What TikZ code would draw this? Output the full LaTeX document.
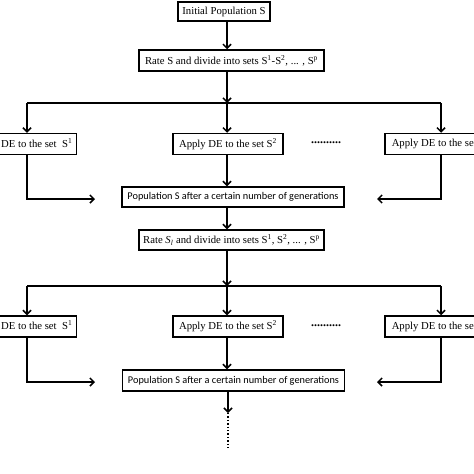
\documentclass[tikz,border=0pt]{standalone}
\usepackage{fontspec}
\setmainfont{Liberation Serif}
\newfontfamily\sansf{Carlito}
\usetikzlibrary{arrows.meta}
\begin{document}
\begin{tikzpicture}[x=1pt,y=-1pt,
  box/.style={draw,line width=1.5pt,minimum height=20pt,inner sep=2pt,font=\fontsize{10.7}{12}\selectfont},
  sbox/.style={box,font=\sansf\fontsize{10.3}{12}\selectfont},
  arr/.style={line width=1.5pt,-{Straight Barb[length=4pt,width=8pt]}},
  ln/.style={line width=1.5pt},
  dotsnode/.style={font=\fontsize{12}{12}\selectfont\bfseries,inner sep=0pt}]
\useasboundingbox (0,0) rectangle (474,474);
\fill[white] (0,0) rectangle (474,474);
\clip (0,0) rectangle (474,474);
% top
\node[box,minimum width=92pt,minimum height=19pt] (b1) at (224,11.5) {Initial Population S};
\node[box,minimum width=185pt,minimum height=21pt] (b2) at (231.5,60.5) {Rate S and divide into sets S\textsuperscript{1}-S\textsuperscript{2}, ... , S\textsuperscript{p}};
\draw[arr] (b1.south -| 227,0) -- (b2.north -| 227,0);
% block 1
\coordinate (j1) at (227,103);
\coordinate (l1) at (27,103);
\coordinate (r1) at (441,103);
\node[box,inner xsep=4pt,minimum height=21pt,anchor=east] (a1) at (77,144) {Apply DE to the set \ S\textsuperscript{1}};
\node[box,minimum width=110pt,minimum height=21pt] (m1) at (228,144) {Apply DE to the set S\textsuperscript{2}};
\node[box,inner xsep=7pt,minimum height=21pt,anchor=west] (c1) at (384,144) {Apply DE to the set S\textsuperscript{p}};
\node[dotsnode] (dt1) at (326,143) {..........};
\node[sbox,minimum width=222pt,minimum height=20pt] (p1) at (233,197) {Population S after a certain number of generations};
\draw[arr] (b2.south -| j1) -- (j1);
\draw[ln] (l1) -- (r1);
\draw[arr] (l1) -- (l1 |- a1.north);
\draw[arr] (j1) -- (j1 |- m1.north);
\draw[arr] (r1) -- (r1 |- c1.north);
\coordinate (lt1) at (95,199);
\coordinate (rt1) at (377,199);
\draw[arr] (a1.south -| l1) |- (lt1);
\draw[arr] (c1.south -| r1) |- (rt1);
\draw[arr] (m1.south -| j1) -- (p1.north -| j1);
% block 2
\node[box,minimum width=185pt,minimum height=20pt] (b5) at (231.5,240) {Rate \textit{S\textsubscript{l}} and divide into sets S\textsuperscript{1}, S\textsuperscript{2}, ... , S\textsuperscript{p}};
\draw[arr] (p1.south -| j1) -- (b5.north -| j1);
\coordinate (j2) at (227,286);
\coordinate (l2) at (27,286);
\coordinate (r2) at (441,286);
\node[box,inner xsep=4pt,minimum height=21pt,anchor=east] (a2) at (77,326.5) {Apply DE to the set \ S\textsuperscript{1}};
\node[box,minimum width=110pt,minimum height=21pt] (m2) at (228,326.5) {Apply DE to the set S\textsuperscript{2}};
\node[box,inner xsep=7pt,minimum height=21pt,anchor=west] (c2) at (384,326.5) {Apply DE to the set S\textsuperscript{p}};
\node[dotsnode] (dt2) at (326,325.5) {..........};
\node[sbox,minimum width=222pt,minimum height=21pt] (p2) at (233.5,380.5) {Population S after a certain number of generations};
\draw[arr] (b5.south -| j2) -- (j2);
\draw[ln] (l2) -- (r2);
\draw[arr] (l2) -- (l2 |- a2.north);
\draw[arr] (j2) -- (j2 |- m2.north);
\draw[arr] (r2) -- (r2 |- c2.north);
\coordinate (lt2) at (95,382);
\coordinate (rt2) at (377,382);
\draw[arr] (a2.south -| l2) |- (lt2);
\draw[arr] (c2.south -| r2) |- (rt2);
\draw[arr] (m2.south -| j2) -- (p2.north -| j2);
% tail
\coordinate (d1) at (228,413);
\coordinate (d2) at (228,450);
\draw[arr] (p2.south -| d1) -- (d1);
\draw[line width=1.5pt,dash pattern=on 1.4pt off 2pt] (d1) -- (d2);
\end{tikzpicture}
\end{document}
